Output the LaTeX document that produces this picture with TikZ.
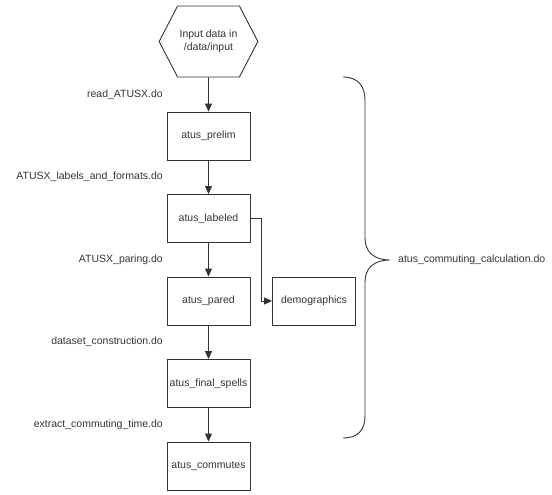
\documentclass[tikz,border=0pt]{standalone}
\usepackage{fontspec}
\setmainfont{Liberation Sans}
\usetikzlibrary{shapes.symbols,arrows.meta}
\definecolor{linegray}{HTML}{333333}
\definecolor{textgray}{HTML}{333333}
\tikzset{stage/.style={rectangle,draw=linegray,line width=0.9pt,minimum width=83pt,minimum height=48pt,inner sep=2pt}}
\tikzset{source/.style={signal,signal to=west and east,signal pointer angle=125,draw=linegray,line width=0.9pt,minimum width=94pt,minimum height=71pt,align=center,inner sep=2pt}}
\tikzset{flow/.style={draw=linegray,line width=0.9pt,-{Triangle[length=8pt,width=7pt]}}}
\tikzset{script/.style={anchor=east,inner sep=0pt}}
\tikzset{bracket/.style={draw=linegray,line width=0.9pt}}

\begin{document}
\begin{tikzpicture}[x=1pt,y=-1pt,font=\fontsize{10.5}{13}\selectfont,text=textgray]
    \useasboundingbox (0,0) rectangle (552,495);
    \node[source] (input) at (208.5,41.5) {Input data in\\/data/input};
    \node[stage] (prelim) at (208.5,136) {atus\_prelim};
    \node[stage] (labeled) at (208.5,218.5) {atus\_labeled};
    \node[stage] (pared) at (208.5,301) {atus\_pared};
    \node[stage] (spells) at (208.5,383.5) {atus\_final\_spells};
    \node[stage] (commutes) at (208.5,466) {atus\_commutes};
    \node[stage] (demo) at (314,301) {demographics};
    \node[script] (read) at (163,94.5) {read\_ATUSX.do};
    \node[script] (formats) at (163,177) {ATUSX\_labels\_and\_formats.do};
    \node[script] (paring) at (163,259.5) {ATUSX\_paring.do};
    \node[script] (construct) at (163,342) {dataset\_construction.do};
    \node[script] (extract) at (163,424.5) {extract\_commuting\_time.do};
    \draw[flow] (input) -- (prelim);
    \draw[flow] (prelim) -- (labeled);
    \draw[flow] (labeled) -- (pared);
    \draw[flow] (pared) -- (spells);
    \draw[flow] (spells) -- (commutes);
    \draw[flow] (labeled.east) -- ++(11,0) |- (demo.west);
    % brace over the whole calculation
    \coordinate (top) at (343,77);
    \coordinate (tip) at (390,260);
    \coordinate (bottom) at (343,438);
    \draw[bracket] (top) .. controls (358,77) and (365,86) .. (365,100) -- (365,238)
      .. controls (365,252) and (374,260) .. (tip)
      .. controls (374,260) and (365,268) .. (365,282) -- (365,416)
      .. controls (365,430) and (358,438) .. (bottom);
    \node[script,anchor=west] (calc) at (398,260) {atus\_commuting\_calculation.do};
\end{tikzpicture}
\end{document}
